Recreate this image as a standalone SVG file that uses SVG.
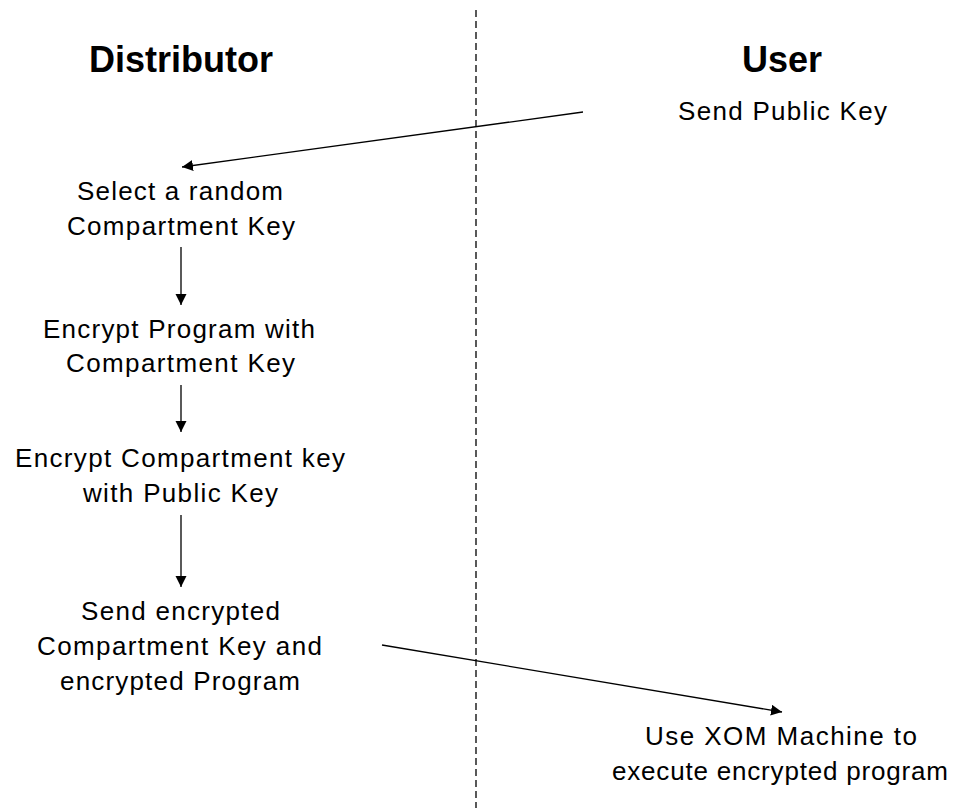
<svg xmlns="http://www.w3.org/2000/svg" width="961" height="808" viewBox="0 0 961 808">
<style>
.h{font-family:"Liberation Sans",Arial,sans-serif;font-size:36px;font-weight:bold;fill:#000;text-anchor:middle}
.t{font-family:"Liberation Sans",Arial,sans-serif;font-size:26px;fill:#000}
.c{stroke:#000;stroke-width:1.3;fill:none;marker-end:url(#ah)}
.d{stroke:#000;stroke-width:1.3;stroke-dasharray:7 4;fill:none}
</style>
<defs>
<marker id="ah" markerUnits="userSpaceOnUse" markerWidth="12" markerHeight="12" refX="11" refY="5.5" orient="auto">
<path d="M0,0 L11,5.5 L0,11 z" fill="#000"/>
</marker>
</defs>
<rect width="961" height="808" fill="#fff"/>
<line class="d" x1="476" y1="10" x2="476" y2="808"/>
<g id="distributor"><text class="h" x="181" y="72">Distributor</text></g>
<g id="user"><text class="h" x="782" y="72">User</text></g>
<g id="send-public-key"><text class="t" x="678" y="120" textLength="209" lengthAdjust="spacing">Send Public Key</text></g>
<g id="select-key">
<text class="t" x="77" y="200" textLength="206" lengthAdjust="spacing">Select a random</text>
<text class="t" x="67" y="235" textLength="228" lengthAdjust="spacing">Compartment Key</text>
</g>
<g id="encrypt-program">
<text class="t" x="43" y="338" textLength="272" lengthAdjust="spacing">Encrypt Program with</text>
<text class="t" x="66" y="372" textLength="229" lengthAdjust="spacing">Compartment Key</text>
</g>
<g id="encrypt-key">
<text class="t" x="15" y="467" textLength="330" lengthAdjust="spacing">Encrypt Compartment key</text>
<text class="t" x="83" y="502" textLength="195" lengthAdjust="spacing">with Public Key</text>
</g>
<g id="send-encrypted">
<text class="t" x="81" y="620" textLength="199" lengthAdjust="spacing">Send encrypted</text>
<text class="t" x="37" y="655" textLength="285" lengthAdjust="spacing">Compartment Key and</text>
<text class="t" x="60" y="690" textLength="240" lengthAdjust="spacing">encrypted Program</text>
</g>
<g id="use-xom">
<text class="t" x="645" y="745" textLength="272" lengthAdjust="spacing">Use XOM Machine to</text>
<text class="t" x="612" y="780" textLength="336" lengthAdjust="spacing">execute encrypted program</text>
</g>
<g id="connectors">
<line class="c" x1="583" y1="112" x2="182" y2="167"/>
<line class="c" x1="181" y1="247" x2="181" y2="305"/>
<line class="c" x1="181" y1="385" x2="181" y2="432"/>
<line class="c" x1="181" y1="515" x2="181" y2="587"/>
<line class="c" x1="382" y1="645" x2="782" y2="712"/>
</g>
</svg>
